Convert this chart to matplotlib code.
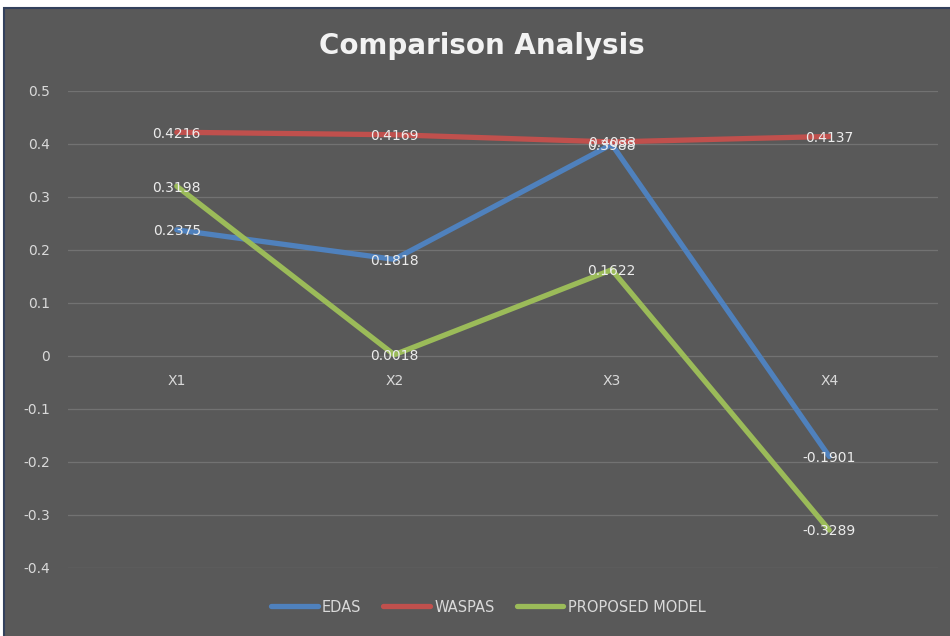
import numpy as np
import matplotlib.pyplot as plt
from matplotlib.patches import Rectangle

# data
categories = ['X1', 'X2', 'X3', 'X4']
edas = [0.2375, 0.1818, 0.3988, -0.1901]
waspas = [0.4216, 0.4169, 0.4033, 0.4137]
proposed = [0.3198, 0.0018, 0.1622, -0.3289]

series = [('EDAS', edas, '#4f81bd'),
          ('WASPAS', waspas, '#c0504d'),
          ('PROPOSED MODEL', proposed, '#9bbb59')]

bg = '#595959'
txt = '#d9d9d9'
plt.rcParams['font.family'] = ['DejaVu Sans']

fig = plt.figure(figsize=(9.5, 6.36), dpi=100, facecolor='white')
# dark chart frame (white strip left/top like the screenshot)
fig.patches.append(Rectangle((4 / 950, -0.01), 1.0, 1 - 8 / 636 + 0.01,
                             transform=fig.transFigure, facecolor=bg,
                             edgecolor='#33415c', linewidth=1.5, zorder=-1))

ax = fig.add_axes([68 / 950, 1 - 567.7 / 636, 870 / 950, (567.7 - 90.7) / 636])
ax.set_facecolor(bg)
ax.patch.set_alpha(0)

x = np.arange(len(categories))
for name, vals, col in series:
    ax.plot(x, vals, color=col, lw=3.8, label=name, solid_capstyle='round',
            solid_joinstyle='round', zorder=3)

for name, vals, col in series:
    for xi, v in zip(x, vals):
        ax.annotate('{:.4f}'.format(v), (xi, v), xytext=(0, -1),
                    textcoords='offset points', ha='center', va='center',
                    color='#ececec', fontsize=10, zorder=5)

ax.set_xlim(-0.5, len(categories) - 0.5)
ax.set_ylim(-0.4, 0.5)
ax.set_yticks(np.arange(-0.4, 0.51, 0.1))
ax.set_yticklabels(['-0.4', '-0.3', '-0.2', '-0.1', '0', '0.1', '0.2', '0.3', '0.4', '0.5'])
ax.set_xticks(x)
ax.set_xticklabels(categories)
ax.spines['bottom'].set_position(('data', 0))
for s in ax.spines.values():
    s.set_visible(False)
ax.tick_params(axis='x', length=0, pad=13, colors=txt, labelsize=10)
ax.tick_params(axis='y', length=0, pad=13, colors=txt, labelsize=10)
ax.grid(axis='y', color='#727272', lw=0.9)
ax.set_axisbelow(True)

fig.text(0.507, 1 - 46 / 636, 'Comparison Analysis', ha='center', va='center',
         fontsize=20, fontweight='bold', color='#f2f2f2')

fig.legend(loc='center', bbox_to_anchor=(0.514, 1 - 607 / 636), ncol=3,
           frameon=False, handlelength=3.2, handletextpad=0.3,
           columnspacing=1.5, labelcolor=txt, fontsize=10.5)

plt.savefig('out.png', dpi=100, facecolor='white')
